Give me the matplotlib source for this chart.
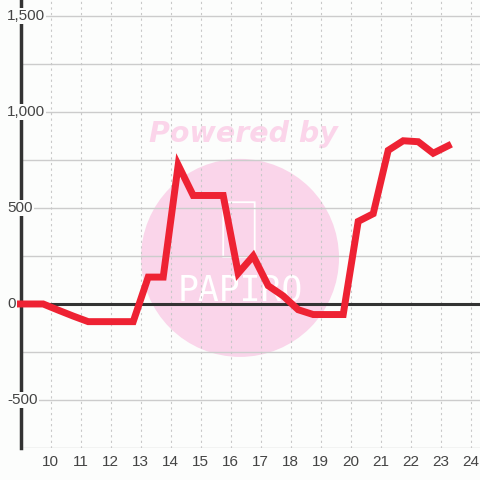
import matplotlib
matplotlib.use("Agg")
import matplotlib.pyplot as plt
from matplotlib.patches import Ellipse, FancyBboxPatch

# Data
hours = [8.75, 9.25, 9.75, 10.25, 10.75, 11.25, 11.75, 12.25, 12.75, 13.25, 13.75,
         14.25, 14.75, 15.25, 15.75, 16.25, 16.75, 17.25, 17.75, 18.25, 18.75,
         19.25, 19.75, 20.25, 20.75, 21.25, 21.75, 22.25, 22.75, 23.25]
values = [0, 0, 0, -32, -63, -92, -92, -92, -92, 140, 140,
          724, 565, 565, 565, 160, 250, 95, 42, -30, -55,
          -55, -55, 430, 470, 800, 850, 845, 785, 824]
xticks = list(range(10, 25))
yticks = [-500, 0, 500, 1000, 1500]
ytick_labels = ["-500", "0", "500", "1,000", "1,500"]
ygrid = [-750, -500, -250, 0, 250, 500, 750, 1000, 1250, 1500]

plt.rcParams['font.family'] = ['Liberation Sans', 'DejaVu Sans']

fig = plt.figure(figsize=(4.8, 4.8), dpi=100, facecolor="#fcfdfc")
ax = fig.add_axes([20.7/480, 32/480, 1 - 20.7/480, 448/480])
ax.set_facecolor("#fcfdfc")
ax.set_xlim(9, 24.31)
ax.set_ylim(-750, 1583)

# grid
for g in ygrid:
    ax.axhline(g, color="#cccccc", lw=1.0, zorder=1)
for t in xticks:
    ax.axvline(t, color="#c8c8c8", lw=0.8, ls=(0, (2, 3)), zorder=1)

# watermark
ax.add_patch(Ellipse((16.31, 240), 198/30, 198/0.192, facecolor="#fad5ea",
                     edgecolor="none", zorder=0.5))
ax.text(16.42, 885, "Powered by", color="#fbd5ea", fontsize=20.5, fontweight="bold",
        style="italic", ha="center", va="center", zorder=0.6,
        family=["DejaVu Sans"])
ax.text(16.31, 70, "PAPIRO", color="white", fontsize=25, ha="center", va="center",
        zorder=0.6, family=["DejaVu Sans Mono"], fontweight="light")
ax.add_patch(FancyBboxPatch((15.75, 245), 1.05, 285, boxstyle="round,pad=0,rounding_size=0.15",
                            facecolor="none", edgecolor="white", lw=1.3, zorder=0.6))

# axes styling
for s in ["top", "right", "bottom"]:
    ax.spines[s].set_visible(False)
ax.spines["left"].set_color("#333333")
ax.spines["left"].set_linewidth(2.5)
ax.spines["left"].set_zorder(1.5)

# zero line
ax.axhline(0, color="#333333", lw=2.2, zorder=2)

# series
ax.plot(hours, values, color="#ee2233", lw=5, solid_joinstyle="miter", zorder=3,
        clip_on=False)

ax.set_xticks(xticks)
ax.set_xticklabels([str(t) for t in xticks])
ax.tick_params(axis="x", length=0, pad=5, labelsize=11, labelcolor="#444444")
ax.set_yticks([])

for v, lab in zip(yticks, ytick_labels):
    ax.text(-0.030, v, lab, transform=ax.get_yaxis_transform(), ha="left", va="center",
            fontsize=11, color="#444444", zorder=10, clip_on=False,
            bbox=dict(facecolor="#fcfdfc", edgecolor="none", pad=1.0))

fig.savefig("out.png", dpi=100, facecolor=fig.get_facecolor())
